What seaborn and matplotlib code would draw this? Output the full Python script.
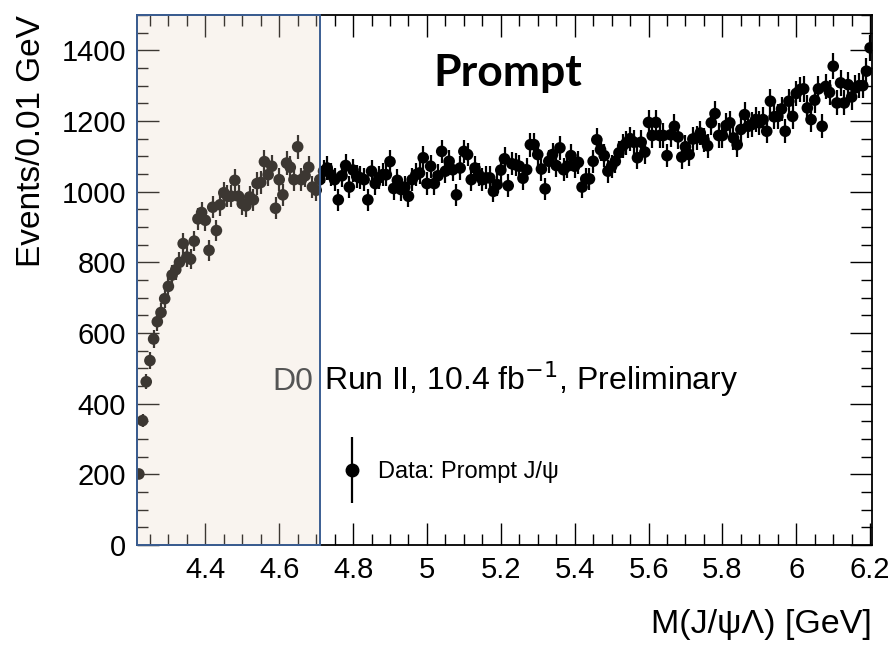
import numpy as np
import pandas as pd
import matplotlib
matplotlib.use("Agg")
import matplotlib.pyplot as plt
from matplotlib.lines import Line2D
from matplotlib.legend_handler import HandlerTuple
from matplotlib.patches import Rectangle
import seaborn as sns

# ---- data ----
mass_start = 4.22   # first bin centre [GeV]
bin_width = 0.01
counts = [
    201, 352, 462, 522, 583, 632, 658, 697, 732, 764,      # 4.22-4.31
    779, 800, 853, 815, 809, 860, 923, 941, 919, 834,      # 4.32-4.41
    956, 890, 963, 997, 987, 987, 1032, 987, 966, 960,     # 4.42-4.51
    985, 977, 1023, 1026, 1085, 1048, 1072, 953, 1034, 991,  # 4.52-4.61
    1081, 1069, 1034, 1127, 1034, 1045, 1069, 1013, 1004, 1034,  # 4.62-4.71
    1058, 1067, 1048, 1034, 977, 1045, 1074, 1013, 1061, 1043,  # 4.72-4.81
    1039, 1034, 977, 1058, 1023, 1039, 1048, 1048, 1085, 1009,  # 4.82-4.91
    1032, 1006, 1013, 987, 1034, 1048, 1053, 1096, 1023, 1072,  # 4.92-5.01
    1023, 1045, 1114, 1058, 1086, 1062, 991, 1067, 1114, 1105,  # 5.02-5.11
    1034, 1067, 1048, 1034, 1039, 1039, 1001, 1020, 1061, 1093,  # 5.12-5.21
    1017, 1079, 1076, 1072, 1038, 1062, 1133, 1133, 1105, 1064,  # 5.22-5.31
    1008, 1086, 1105, 1074, 1124, 1062, 1072, 1102, 1072, 1083,  # 5.32-5.41
    1013, 1036, 1036, 1086, 1147, 1119, 1102, 1058, 1072, 1086,  # 5.42-5.51
    1110, 1129, 1138, 1150, 1140, 1096, 1140, 1112, 1196, 1159,  # 5.52-5.61
    1196, 1159, 1159, 1102, 1161, 1185, 1155, 1098, 1127, 1105,  # 5.62-5.71
    1149, 1152, 1166, 1147, 1130, 1195, 1221, 1159, 1159, 1187,  # 5.72-5.81
    1195, 1152, 1133, 1176, 1218, 1185, 1190, 1204, 1195, 1204,  # 5.82-5.91
    1171, 1256, 1212, 1213, 1234, 1171, 1256, 1213, 1278, 1289,  # 5.92-6.01
    1291, 1237, 1204, 1259, 1291, 1185, 1298, 1281, 1355, 1251,  # 6.02-6.11
    1308, 1251, 1303, 1268, 1294, 1300, 1300, 1341, 1407,        # 6.12-6.20
]
mass = np.round(mass_start + bin_width * np.arange(len(counts)), 3)
errors = np.sqrt(np.array(counts, dtype=float))   # Poisson errors

x_ticks = [4.4, 4.6, 4.8, 5.0, 5.2, 5.4, 5.6, 5.8, 6.0, 6.2]
x_tick_labels = ["4.4", "4.6", "4.8", "5", "5.2", "5.4", "5.6", "5.8", "6", "6.2"]
y_ticks = [0, 200, 400, 600, 800, 1000, 1200, 1400]
region_lo, region_hi = 4.215, 4.71

df = pd.DataFrame({"mass": mass, "counts": counts, "err": errors})

# ---- style ----
sns.set_theme(style="ticks")
plt.rcParams["font.family"] = ["Liberation Sans", "DejaVu Sans"]
for k in ["text.color", "axes.labelcolor", "xtick.color", "ytick.color",
          "axes.edgecolor"]:
    plt.rcParams[k] = "black"

fig = plt.figure(figsize=(8.92, 6.46), dpi=100)
ax = fig.add_axes([137 / 892, 1 - 545 / 646, 735 / 892, 530 / 646])

ax.errorbar(df["mass"], df["counts"], yerr=df["err"], fmt="none",
            ecolor="black", elinewidth=1.6, capsize=0, zorder=3)
sns.scatterplot(data=df, x="mass", y="counts", ax=ax, color="black",
                s=70, edgecolor="none", zorder=4, legend=False)

# highlighted region (semi-transparent overlay)
ax.add_patch(Rectangle((region_lo, 0), region_hi - region_lo, 1500,
                       facecolor=(235 / 255, 215 / 255, 195 / 255), alpha=0.26,
                       edgecolor="none", zorder=5))
ax.add_patch(Rectangle((region_lo, 0), region_hi - region_lo, 1500,
                       facecolor="none", edgecolor="#3b5e93", linewidth=1.4,
                       zorder=6, clip_on=False))

ax.set_xlim(4.215, 6.205)
ax.set_ylim(0, 1500)
ax.set_xticks(x_ticks)
ax.set_xticklabels(x_tick_labels)
ax.set_yticks(y_ticks)
ax.xaxis.set_minor_locator(matplotlib.ticker.MultipleLocator(0.05))
ax.yaxis.set_minor_locator(matplotlib.ticker.MultipleLocator(50))
ax.tick_params(which="both", direction="in", top=True, right=True,
               labelsize=21, color="black", width=1.0)
ax.tick_params(which="major", length=16, pad=8)
ax.tick_params(which="minor", length=8)
for s in ax.spines.values():
    s.set_linewidth(1.3)
    s.set_color("black")

ax.set_xlabel("M(J/ψΛ) [GeV]", fontsize=24.5, loc="right", labelpad=18)
ax.set_ylabel("Events/0.01 GeV", fontsize=24, loc="top", labelpad=10)

ax.text(0.505, 0.89, "Prompt", transform=ax.transAxes, fontsize=32,
        fontweight="bold", family=["Lato", "DejaVu Sans"],
        ha="center", va="center", zorder=7)
ax.text(0.184, 0.292, "D0", transform=ax.transAxes, fontsize=23,
        color="#555555", ha="left", va="baseline", zorder=7)
ax.text(0.254, 0.292, "Run II, 10.4 fb$^{-1}$, Preliminary",
        transform=ax.transAxes, fontsize=23, color="black",
        ha="left", va="baseline", zorder=7)

h_pt = Line2D([], [], marker="o", ms=9, color="black", ls="none")
h_bar = Line2D([], [], marker="|", ms=48, mew=1.6, color="black", ls="none")
ax.legend([(h_bar, h_pt)], ["Data: Prompt J/ψ"],
          handler_map={tuple: HandlerTuple(ndivide=1, pad=0)},
          loc="center left", bbox_to_anchor=(0.248, 0.138), frameon=False,
          fontsize=17, handlelength=1.0, handletextpad=0.6)

fig.savefig("out.png", dpi=100)
